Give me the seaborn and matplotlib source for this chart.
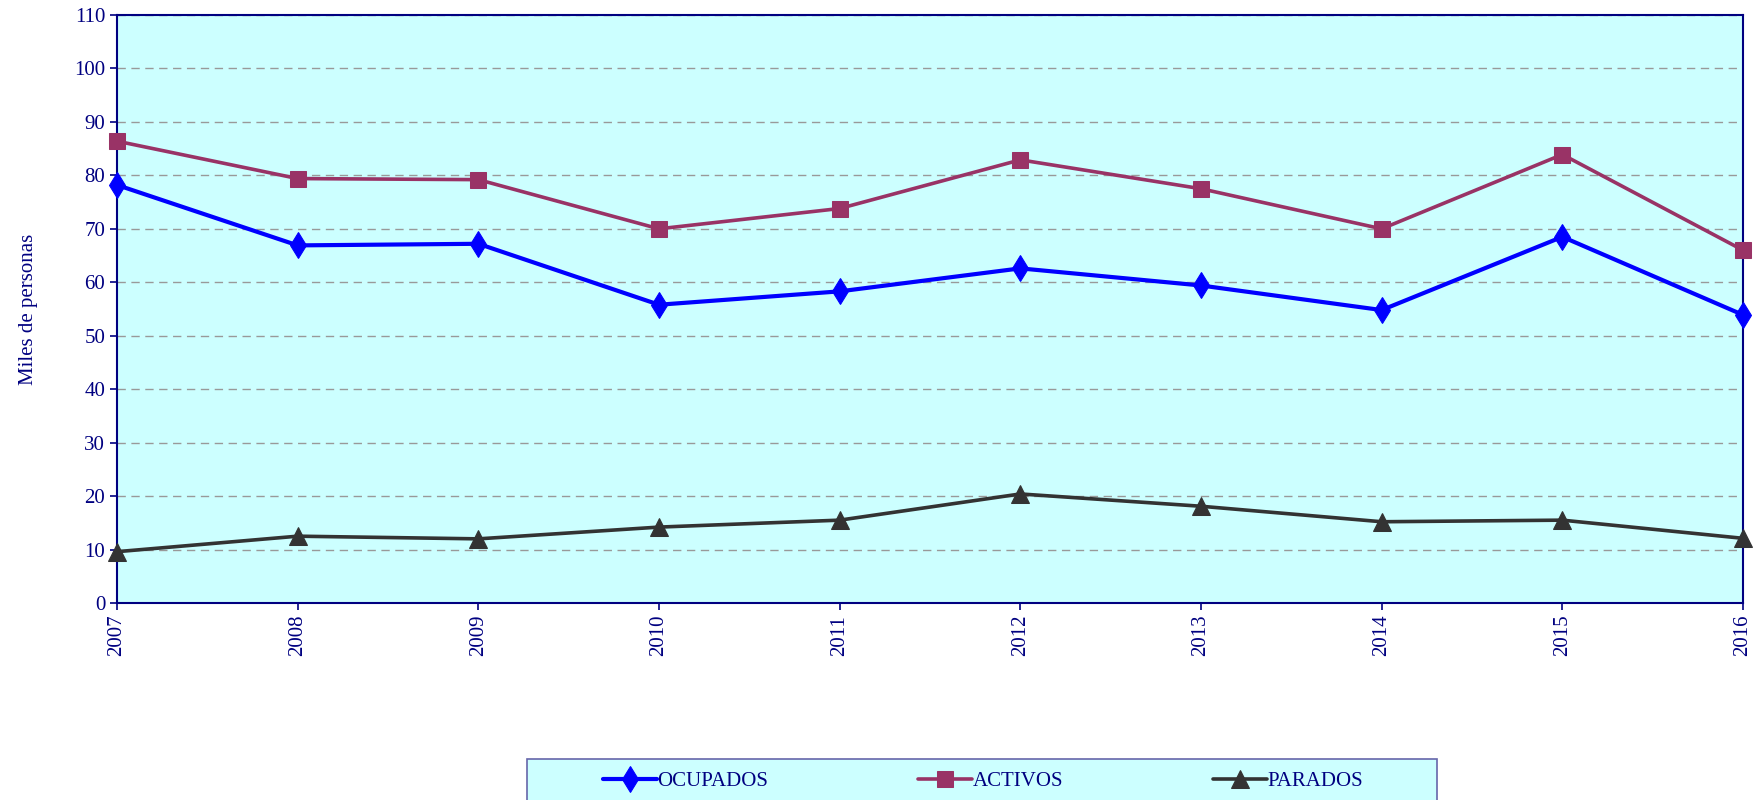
import numpy as np
import matplotlib
matplotlib.use("Agg")
import matplotlib.pyplot as plt
from matplotlib.patches import Rectangle
import seaborn as sns

# data (miles de personas)
years = [2007, 2008, 2009, 2010, 2011, 2012, 2013, 2014, 2015, 2016]
ocupados = [78.2, 66.9, 67.2, 55.8, 58.3, 62.6, 59.4, 54.8, 68.5, 53.9]
activos = [86.4, 79.4, 79.2, 70.0, 73.8, 82.9, 77.5, 70.0, 83.9, 66.0]
parados = [9.6, 12.5, 12.0, 14.2, 15.5, 20.4, 18.1, 15.2, 15.5, 12.1]
yticks = list(range(0, 111, 10))

navy = "#000080"
bg = "#ccffff"
fs = 15

sns.set_theme(style="white")
plt.rcParams["font.family"] = ["Liberation Serif", "DejaVu Serif"]

fig = plt.figure(figsize=(17.62, 8), dpi=100)
ax = fig.add_axes([117 / 1762, 1 - 603 / 800, (1743 - 117) / 1762, (603 - 15) / 800])
ax.set_facecolor(bg)

sns.lineplot(x=years, y=ocupados, ax=ax, color="#0000ff", lw=3, marker="d",
             markersize=13, markeredgecolor="#0000ff", label="OCUPADOS", zorder=4,
             clip_on=False)
sns.lineplot(x=years, y=activos, ax=ax, color="#993366", lw=2.6, marker="s",
             markersize=11, markeredgecolor="#993366", label="ACTIVOS", zorder=4,
             clip_on=False)
sns.lineplot(x=years, y=parados, ax=ax, color="#333333", lw=2.6, marker="^",
             markersize=13, markeredgecolor="#333333", label="PARADOS", zorder=4,
             clip_on=False)

ax.set_xlim(2007, 2016)
ax.set_ylim(0, 110)
ax.set_xticks(years)
ax.set_xticklabels([str(y) for y in years], rotation=90)
ax.set_yticks(yticks)
ax.yaxis.grid(True, color="#999999", linestyle=(0, (6, 4)), lw=1)
ax.xaxis.grid(False)
ax.set_axisbelow(True)

for s in ax.spines.values():
    s.set_color(navy)
    s.set_linewidth(1.5)

ax.tick_params(axis="both", colors=navy, labelcolor=navy, labelsize=fs,
               direction="out", length=5, width=1.2, bottom=True, left=True)
ax.set_xlabel("")
ax.set_ylabel("Miles de personas", color=navy, fontsize=fs, labelpad=26)

# legend box at the bottom, cut by the figure edge as in the reference
fig.patches.append(Rectangle((527 / 1762, -0.02), (1437 - 527) / 1762, 0.02 + 1 - 759 / 800,
                             transform=fig.transFigure, facecolor=bg,
                             edgecolor="#6666aa", lw=1.2, zorder=0))

ax.get_legend().remove()
handles, labels = ax.get_legend_handles_labels()
leg = fig.legend(handles, labels, loc="center", ncol=3, mode="expand",
                 bbox_to_anchor=(603 / 1762, 1 - 781 / 800, (1363 - 603) / 1762, 0),
                 frameon=False, fontsize=fs, handlelength=2.6,
                 handletextpad=0.0, borderaxespad=0, borderpad=0)
for t in leg.get_texts():
    t.set_color(navy)

fig.savefig("out.png", dpi=100)
